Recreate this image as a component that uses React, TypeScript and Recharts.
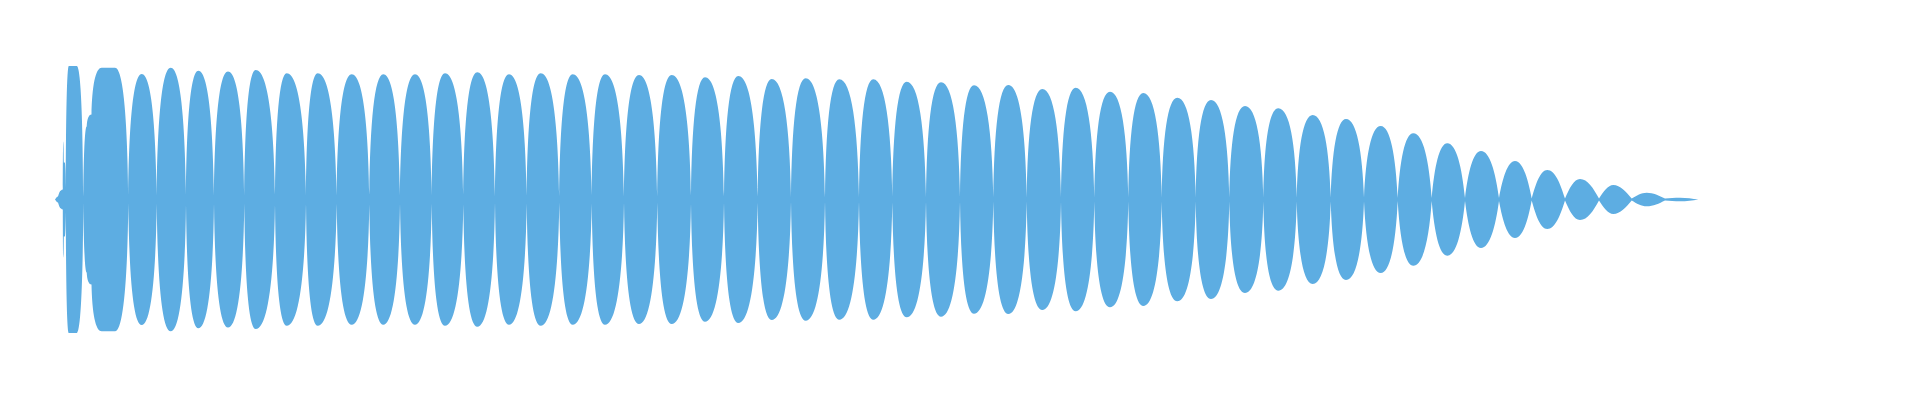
import { useEffect, useState } from "react";
import { AreaChart, Area, XAxis, YAxis } from "recharts";

// time in ms, amplitude in arbitrary units (domain -150..150)
// the irregular onset, point by point
const onsetTimes = [0, 3, 6, 7.8, 8.3, 8.8, 9.8, 10.8, 13.8, 21.7, 28.3, 31.7, 36.5, 46.7, 60];
const onsetAmps = [0, 3, 9, 10, 58, 37, 37, 12, 133.5, 133.5, 3, 73, 85, 131.8, 131.8];

// gaps between lobes
const notchTimes = [
  73.3, 101.7, 131, 159, 189.3, 220, 251, 281.7, 314.3, 345,
  376.7, 408.3, 440, 471.7, 504.3, 536.7, 569, 602.3, 636, 669,
  702.7, 736, 770, 804, 837.3, 871, 905, 938.3, 971.7, 1006,
  1039.3, 1073.3, 1106.7, 1140.7, 1174.3, 1208.3, 1241.7, 1275.7, 1309, 1342.7,
  1376.7, 1410, 1444, 1476.7, 1510, 1544, 1576.7, 1610, 1643.3,
];
const notchAmps = [
  4, 4, 5, 4, 4, 5, 4, 4, 5, 4,
  4, 5, 3, 4, 3, 4, 3, 3, 4, 3,
  3, 2, 2, 2, 3, 2, 2, 2, 2, 2,
  2, 2, 2, 2, 2, 2, 2, 2, 2, 1.5,
  1.5, 1.5, 1.5, 1, 1, 1, 1, 1, 0,
];

// lobe peaks
const peakTimes = [
  86.7, 115.7, 143.3, 173, 200.7, 231.7, 262.7, 296.7, 328.3, 360,
  390, 422.3, 454, 485.7, 517.7, 550, 584, 616.7, 650, 683.3,
  716.7, 750.7, 784.3, 818.3, 851.7, 886, 919, 953.3, 987.3, 1020.7,
  1055, 1088.3, 1122.3, 1156, 1190, 1223.3, 1257.7, 1291, 1325.7, 1358.3,
  1392.3, 1426, 1460, 1492.3, 1525, 1558.3, 1591.7, 1625,
];
const peakAmps = [
  125.5, 131.8, 128.8, 128, 129.5, 126.2, 126.2, 125.2, 125.2, 125.2,
  126.2, 127.2, 125.2, 126.2, 125.2, 125.2, 124.5, 124.5, 122.2, 123.5,
  120.5, 121.2, 120.2, 120.2, 117.8, 117.2, 114.2, 114.5, 110.5, 111.8,
  107.8, 106.5, 101.8, 99.5, 93.5, 91.2, 84.5, 80.5, 73.5, 66.2,
  56.2, 48.5, 38.5, 29.5, 20.5, 14.5, 6.8, 1.8,
];

const data: { t: number; a: number }[] = [];
onsetTimes.forEach((t, i) => data.push({ t, a: onsetAmps[i] }));
peakTimes.forEach((t, i) => {
  data.push({ t: notchTimes[i], a: notchAmps[i] });
  data.push({ t, a: peakAmps[i] });
});
data.push({ t: notchTimes[notchTimes.length - 1], a: notchAmps[notchAmps.length - 1] });

const CHART_W = 1904;
const CHART_H = 384;
const MARGIN = { top: 41.5, right: 57, bottom: 42.5, left: 47 };
// pixel row of amplitude 0 (y domain is symmetric)
const CENTER_Y = MARGIN.top + (CHART_H - MARGIN.top - MARGIN.bottom) / 2;

const lerp = (a: number, b: number, w: number) => a + (b - a) * w;

// rounded lobe segments: flat at the lobe tops, steep in the gaps.
// big lobes come out elliptical, small ones lens shaped.
// "far" end of a segment = the one farther from the centre line
function lobeCurve(context: any) {
  let inArea = false;
  let lines: number[][][] = [];
  let pts: number[][] = [];

  const drawLine = (p: number[][], first: boolean) => {
    if (!p.length) return;
    if (first) context.moveTo(p[0][0], p[0][1]);
    else context.lineTo(p[0][0], p[0][1]);
    for (let i = 1; i < p.length; i++) {
      const [x0, y0] = p[i - 1];
      const [x1, y1] = p[i];
      const d0 = Math.abs(y0 - CENTER_Y);
      const d1 = Math.abs(y1 - CENTER_Y);
      if (!(Math.abs(d0 - d1) > 1e-6)) {
        context.lineTo(x1, y1);
        continue;
      }
      const farIsEnd = d1 > d0;
      const [nx, ny] = farIsEnd ? [x0, y0] : [x1, y1];
      const [fx, fy] = farIsEnd ? [x1, y1] : [x0, y0];
      const w = Math.min(1, Math.max(0, (Math.max(d0, d1) - 10) / 80));
      const cnx = nx + lerp(0.326, 0.06, w) * (fx - nx);
      const cny = ny + lerp(0.5123, 0.6, w) * (fy - ny);
      const cfx = nx + lerp(0.638, 0.38, w) * (fx - nx);
      const cfy = fy;
      if (farIsEnd) context.bezierCurveTo(cnx, cny, cfx, cfy, x1, y1);
      else context.bezierCurveTo(cfx, cfy, cnx, cny, x1, y1);
    }
  };

  return {
    areaStart() {
      inArea = true;
      lines = [];
    },
    areaEnd() {
      inArea = false;
      lines.forEach((l, i) => drawLine(l, i === 0));
      context.closePath();
    },
    lineStart() {
      pts = [];
    },
    point(x: number, y: number) {
      pts.push([+x, +y]);
    },
    lineEnd() {
      if (inArea) lines.push(pts);
      else drawLine(pts, true);
    },
  };
}

export default function App() {
  // the lobe curve only comes out right after a second render
  const [, setTick] = useState(0);
  useEffect(() => {
    const id = setTimeout(() => setTick(1), 50);
    return () => clearTimeout(id);
  }, []);

  return (
    <div style={{ position: "relative" }}>
      <AreaChart width={CHART_W} height={CHART_H} data={data} margin={MARGIN}>
        <XAxis dataKey="t" type="number" domain={[0, 1800]} hide />
        <YAxis type="number" domain={[-150, 150]} hide />
        <Area
          dataKey={(d: { a: number }) => [-d.a, d.a]}
          type={lobeCurve as any}
          stroke="none"
          fill="#5DADE2"
          fillOpacity={1}
          isAnimationActive={false}
          dot={false}
          activeDot={false}
        />
      </AreaChart>
    </div>
  );
}
